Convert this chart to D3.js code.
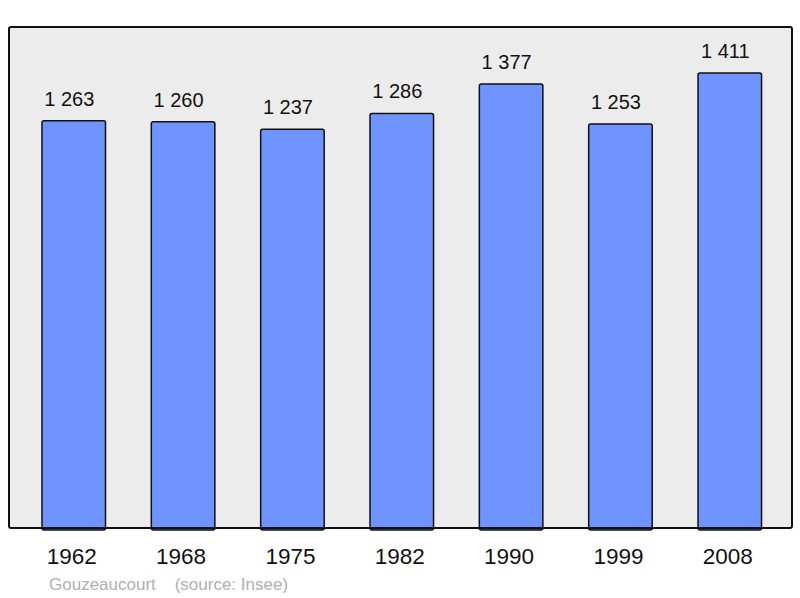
<!DOCTYPE html>
<html>
<head>
<meta charset="utf-8">
<script src="https://cdn.jsdelivr.net/npm/d3@7"></script>
<style>
  body { margin: 0; background: #fff; }
  svg { display: block; font-family: "Liberation Sans", Arial, sans-serif; }
</style>
</head>
<body>
<svg id="chart" width="800" height="598"></svg>
<script>
const years = ["1962", "1968", "1975", "1982", "1990", "1999", "2008"];
const population = [1263, 1260, 1237, 1286, 1377, 1253, 1411];
const commune = "Gouzeaucourt";
const source = "(source: Insee)";

const svg = d3.select("#chart");

const panel = { left: 9, top: 27, right: 792, bottom: 528 };

const data = years.map((y, i) => ({ year: y, value: population[i] }));

const xScale = d3
  .scaleBand()
  .domain(years)
  .range([panel.left, panel.right])
  .paddingInner(0.419)
  .paddingOuter(0.29)
  .align(0.52);

const yScale = d3
  .scaleLinear()
  .domain([0, 1554])
  .range([panel.bottom, panel.top]);

// background panel
svg
  .append("rect")
  .attr("x", panel.left)
  .attr("y", panel.top)
  .attr("width", panel.right - panel.left)
  .attr("height", panel.bottom - panel.top)
  .attr("rx", 2)
  .attr("fill", "#ececec");

// bars
svg
  .append("g")
  .selectAll("rect")
  .data(data)
  .join("rect")
  .attr("x", (d) => xScale(d.year))
  .attr("y", (d) => yScale(d.value))
  .attr("width", xScale.bandwidth())
  .attr("height", (d) => yScale(0) - yScale(d.value) + 2)
  .attr("rx", 2)
  .attr("fill", "#7094ff")
  .attr("stroke", "#111")
  .attr("stroke-width", 1.5);

// value labels
svg
  .append("g")
  .selectAll("text")
  .data(data)
  .join("text")
  .attr("x", (d) => xScale(d.year) + xScale.bandwidth() / 2 - 4.5)
  .attr("y", (d) => yScale(d.value) - 15)
  .attr("text-anchor", "middle")
  .attr("font-size", "20px")
  .attr("fill", "#111")
  .text((d) => d3.format(",")(d.value).replace(",", " "));

// panel border drawn on top
svg
  .append("rect")
  .attr("x", panel.left)
  .attr("y", panel.top)
  .attr("width", panel.right - panel.left)
  .attr("height", panel.bottom - panel.top)
  .attr("rx", 2)
  .attr("fill", "none")
  .attr("stroke", "#111")
  .attr("stroke-width", 2);

// x axis labels
const xAxis = d3.axisBottom(xScale).tickSize(0).tickPadding(0);
svg
  .append("g")
  .attr("transform", `translate(0,${panel.bottom})`)
  .call(xAxis)
  .call((g) => g.select(".domain").remove())
  .call((g) =>
    g
      .selectAll("text")
      .attr("dy", null)
      .attr("x", -2)
      .attr("y", 36)
      .attr("font-size", "22.5px")
      .attr("font-family", "Liberation Sans, Arial, sans-serif")
      .attr("fill", "#111")
  );

// footer
svg
  .append("text")
  .attr("x", 49)
  .attr("y", 590)
  .attr("font-size", "17px")
  .attr("fill", "#b0b0b0")
  .attr("xml:space", "preserve")
  .text(`${commune}    ${source}`);
</script>
</body>
</html>
